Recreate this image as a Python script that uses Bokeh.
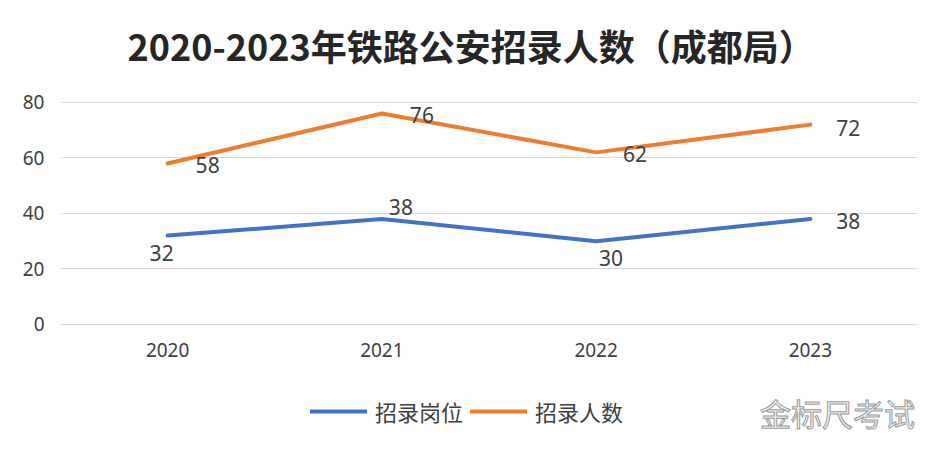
from bokeh.plotting import figure
from bokeh.models import Range1d, FixedTicker, Legend, LegendItem, Label, ColumnDataSource
from bokeh.core.properties import value
from bokeh.embed import file_html
from bokeh.resources import INLINE

# ---- data ----
years = ["2020", "2021", "2022", "2023"]
posts = [32, 38, 30, 38]        # 招录岗位
people = [58, 76, 62, 72]       # 招录人数
y_ticks = [0, 20, 40, 60, 80]
series_names = ["招录岗位", "招录人数"]
title_text = "2020-2023年铁路公安招录人数（成都局）"
mark_text = "金标尺考试"

# ---- label placement (style only) ----
posts_dx = [-6, 19, 15, 38]
posts_dy = [17, -12, 17, 2]
people_dx = [40, 40, 39, 38]
people_dy = [2, 1, 2, 3]

BLUE = "#4472C4"
ORANGE = "#ED7D31"
TXT = "#404040"
NUM_FONT = "Noto Sans"
CJK_FONT = "Noto Sans CJK SC"

p = figure(width=948, height=450, x_range=years, y_range=Range1d(-44, 87.9),
           output_backend="svg", toolbar_location=None,
           min_border_left=60, min_border_right=31, min_border_top=80, min_border_bottom=4)
p.outline_line_color = None
p.background_fill_color = "white"
p.border_fill_color = "white"

p.title.text = title_text
p.title.text_font = CJK_FONT
p.title.text_font_style = "bold"
p.title.text_font_size = "36px"
p.title.text_color = "#262626"
p.title.align = "left"
p.title.offset = 67
p.title.standoff = 20

# axes
p.xgrid.grid_line_color = None
p.ygrid.grid_line_color = "#d9d9d9"
p.ygrid.grid_line_width = 1
p.yaxis.ticker = FixedTicker(ticks=y_ticks)
p.xaxis.fixed_location = 0
for ax in (p.xaxis, p.yaxis):
    ax.axis_line_color = None
    ax.major_tick_line_color = None
    ax.minor_tick_line_color = None
    ax.major_tick_out = 0
    ax.major_tick_in = 0
    ax.major_label_text_font = NUM_FONT
    ax.major_label_text_font_size = "19px"
    ax.major_label_text_color = TXT
p.yaxis.major_label_standoff = 16
p.xaxis.major_label_standoff = 19

src_posts = ColumnDataSource(dict(x=years, y=posts, t=[str(v) for v in posts], dx=posts_dx, dy=posts_dy))
src_people = ColumnDataSource(dict(x=years, y=people, t=[str(v) for v in people], dx=people_dx, dy=people_dy))

r1 = p.line("x", "y", source=src_posts, line_color=BLUE, line_width=4, line_cap="round", line_join="round")
r2 = p.line("x", "y", source=src_people, line_color=ORANGE, line_width=4, line_cap="round", line_join="round")

for src in (src_posts, src_people):
    p.text("x", "y", text="t", source=src, x_offset="dx", y_offset="dy",
           text_align="center", text_baseline="middle",
           text_font=value(NUM_FONT), text_font_size="21px", text_color=TXT)

legend = Legend(items=[LegendItem(label=series_names[0], renderers=[r1]),
                       LegendItem(label=series_names[1], renderers=[r2])],
                orientation="horizontal", location=(250, 19),
                label_text_font=CJK_FONT, label_text_font_size="22px", label_text_color=TXT,
                glyph_width=57, glyph_height=24, label_standoff=8, spacing=7,
                padding=0, margin=0, border_line_color=None, background_fill_alpha=0)
p.add_layout(legend, "center")

mark = Label(x=777, y=34, x_units="screen", y_units="screen", text=mark_text,
             text_align="center", text_baseline="middle", text_font=CJK_FONT,
             text_font_size="31px", text_color="#f4f4f4",
             text_outline_color="#9a9a9a")
p.add_layout(mark)

open("out.html", "w").write(file_html(p, INLINE))
